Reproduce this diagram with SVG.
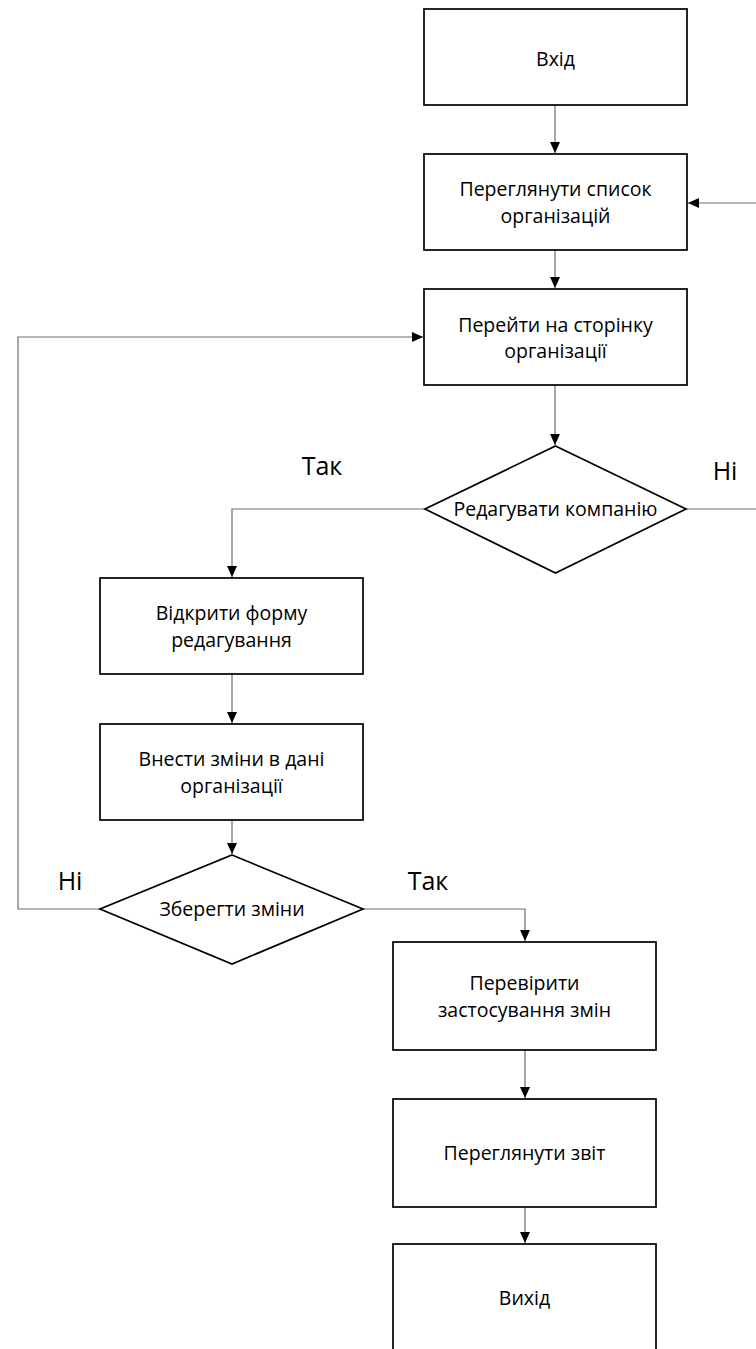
<svg xmlns="http://www.w3.org/2000/svg" width="756" height="1349" viewBox="0 0 756 1349">
<style>
.box{fill:#fff;stroke:#000;stroke-width:1.7}
.t{font-family:"Open Sans","Liberation Sans",sans-serif;font-size:19.5px;fill:#000;text-anchor:middle}
.lbl{font-family:"Open Sans","Liberation Sans",sans-serif;font-size:25px;fill:#000;text-anchor:middle}
.c{fill:none;stroke:#6e6e6e;stroke-width:1.2}
</style>
<defs>
<marker id="ah" markerWidth="12" markerHeight="12" refX="11" refY="6" orient="auto" markerUnits="userSpaceOnUse">
<path d="M0,1 L11,6 L0,11 Z" fill="#000"/>
</marker>
</defs>
<rect width="756" height="1349" fill="#fff"/>
<g id="connectors">
<path class="c" d="M555,105 V153" marker-end="url(#ah)"/>
<path class="c" d="M555,250 V288" marker-end="url(#ah)"/>
<path class="c" d="M756,203 H688" marker-end="url(#ah)"/>
<path class="c" d="M555,385 V445" marker-end="url(#ah)"/>
<path class="c" d="M686,509 H756"/>
<path class="c" d="M425,509 H232 V577" marker-end="url(#ah)"/>
<path class="c" d="M232,674 V723" marker-end="url(#ah)"/>
<path class="c" d="M232,820 V854" marker-end="url(#ah)"/>
<path class="c" d="M100,909 H18 V337 H423" marker-end="url(#ah)"/>
<path class="c" d="M363,909 H525 V941" marker-end="url(#ah)"/>
<path class="c" d="M525,1050 V1098" marker-end="url(#ah)"/>
<path class="c" d="M525,1207 V1243" marker-end="url(#ah)"/>
</g>
<g id="n-vhid">
<rect class="box" x="424" y="9" width="263" height="96"/>
<text class="t" x="555.5" y="66">Вхід</text>
</g>
<g id="n-spysok">
<rect class="box" x="424" y="154" width="263" height="96"/>
<text class="t" x="555.5" y="196">Переглянути список</text>
<text class="t" x="555.5" y="223">організацій</text>
</g>
<g id="n-storinka">
<rect class="box" x="424" y="289" width="263" height="96"/>
<text class="t" x="555.5" y="332">Перейти на сторінку</text>
<text class="t" x="555.5" y="358">організації</text>
</g>
<g id="n-redaguvaty">
<polygon class="box" points="555.5,446 686,509 555.5,573 425,509"/>
<text class="t" x="555.5" y="516">Редагувати компанію</text>
</g>
<g id="n-forma">
<rect class="box" x="100" y="578" width="263" height="96"/>
<text class="t" x="231.5" y="620">Відкрити форму</text>
<text class="t" x="231.5" y="647">редагування</text>
</g>
<g id="n-vnesty">
<rect class="box" x="100" y="724" width="263" height="96"/>
<text class="t" x="231.5" y="766">Внести зміни в дані</text>
<text class="t" x="231.5" y="793">організації</text>
</g>
<g id="n-zberegty">
<polygon class="box" points="232,855 363,909 232,964 100,909"/>
<text class="t" x="232" y="916">Зберегти зміни</text>
</g>
<g id="n-pereviryty">
<rect class="box" x="393" y="942" width="263" height="108"/>
<text class="t" x="524.5" y="990">Перевірити</text>
<text class="t" x="524.5" y="1017">застосування змін</text>
</g>
<g id="n-zvit">
<rect class="box" x="393" y="1099" width="263" height="108"/>
<text class="t" x="524.5" y="1160">Переглянути звіт</text>
</g>
<g id="n-vyhid">
<rect class="box" x="393" y="1244" width="263" height="120"/>
<text class="t" x="524.5" y="1305">Вихід</text>
</g>
<g id="labels">
<text class="lbl" x="322" y="475">Так</text>
<text class="lbl" x="725" y="480">Ні</text>
<text class="lbl" x="70" y="890">Ні</text>
<text class="lbl" x="428" y="890">Так</text>
</g>
</svg>
